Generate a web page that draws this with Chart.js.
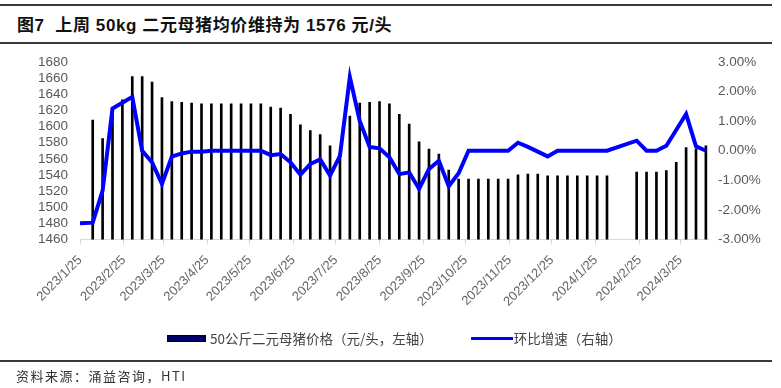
<!DOCTYPE html>
<html>
<head>
<meta charset="utf-8">
<script src="https://cdn.jsdelivr.net/npm/chart.js@4.4.1/dist/chart.umd.min.js"></script>
<style>
  body { margin: 0; background: #fff; }
  #page { position: relative; width: 781px; height: 388px; overflow: hidden; font-family: "Liberation Sans", "Noto Sans CJK SC", sans-serif; }
  #chart { position: absolute; left: 0; top: 0; }
  .rule { position: absolute; left: 0; width: 772px; height: 1.5px; background: #3a3a3a; }
  #title { position: absolute; left: 17px; top: 11px; font-size: 17px; font-weight: bold; letter-spacing: 0.6px; color: #111; white-space: pre; }
  #legend { position: absolute; top: 326px; left: 167px; font-family: "Noto Sans CJK SC", sans-serif; font-size: 13.5px; color: #444; white-space: nowrap; }
  #legend span { display: inline-block; vertical-align: middle; }
  .sw-bar { width: 37px; height: 5px; background: #000066; border: 0.5px solid #000; margin-right: 4px; }
  .sw-line { width: 42px; height: 3px; background: #0000ff; margin-left: 38px; margin-right: 1px; }
  #source { position: absolute; left: 16px; top: 366px; font-family: "Noto Sans CJK SC", sans-serif; font-size: 13px; letter-spacing: 1.5px; color: #333; }
</style>
</head>
<body>
<div id="page">
  <div class="rule" style="top:4px"></div>
  <div id="title">图7  上周 50kg 二元母猪均价维持为 1576 元/头</div>
  <div class="rule" style="top:42px"></div>
  <canvas id="chart" width="781" height="388"></canvas>
  <div id="legend"><span class="sw-bar"></span><span>50公斤二元母猪价格（元/头，左轴）</span><span class="sw-line"></span><span>环比增速（右轴）</span></div>
  <div class="rule" style="top:360px"></div>
  <div id="source">资料来源：涌益咨询，HTI</div>
</div>
<script>
// weekly observation dates (no data around Chinese New Year 2024)
const weekDates = [
  '2023/1/25', '2023/2/3', '2023/2/10', '2023/2/17', '2023/2/24', '2023/3/3', '2023/3/10', '2023/3/17',
  '2023/3/24', '2023/3/31', '2023/4/7', '2023/4/14', '2023/4/21', '2023/4/28', '2023/5/5', '2023/5/12',
  '2023/5/19', '2023/5/26', '2023/6/2', '2023/6/9', '2023/6/16', '2023/6/23', '2023/6/30', '2023/7/7',
  '2023/7/14', '2023/7/21', '2023/7/28', '2023/8/4', '2023/8/11', '2023/8/18', '2023/8/25', '2023/9/1',
  '2023/9/8', '2023/9/15', '2023/9/22', '2023/9/29', '2023/10/6', '2023/10/13', '2023/10/20', '2023/10/27',
  '2023/11/3', '2023/11/10', '2023/11/17', '2023/11/24', '2023/12/1', '2023/12/8', '2023/12/15', '2023/12/22',
  '2023/12/29', '2024/1/5', '2024/1/12', '2024/1/19', '2024/1/26', '2024/2/2', '2024/2/23', '2024/3/1',
  '2024/3/8', '2024/3/15', '2024/3/22', '2024/3/29', '2024/4/5', '2024/4/12'
];

// 50kg sow price, yuan/head (left axis)
const sowPrice = [
  null, 1608, 1585, 1620, 1633, 1662, 1662, 1655,
  1636, 1631, 1630, 1629, 1628, 1628, 1628, 1628,
  1628, 1628, 1628, 1624, 1623, 1615, 1602, 1595,
  1590, 1576, 1567, 1613, 1629, 1630, 1631, 1628,
  1615, 1603, 1581, 1572, 1566, 1546, 1535, 1535,
  1535, 1535, 1535, 1535, 1540, 1541, 1541, 1539,
  1539, 1539, 1539, 1539, 1539, 1539, 1543.5, 1543.5,
  1543.5, 1545.5, 1555.5, 1574, 1572.5, 1576
];

// week-on-week change, % (right axis)
const wowChange = [
  -2.45, -2.43, -1.35, 1.43, 1.62, 1.82, 0.0, -0.39,
  -1.12, -0.2, -0.09, -0.03, -0.03, 0.0, 0.0, 0.0,
  0.0, 0.0, 0.0, -0.15, -0.11, -0.39, -0.81, -0.45,
  -0.29, -0.84, -0.17, 2.49, 1.01, 0.13, 0.08, -0.22,
  -0.79, -0.73, -1.29, -0.62, -0.34, -1.2, -0.76, 0.0,
  0.0, 0.0, 0.0, 0.0, 0.27, 0.13, -0.03, -0.19,
  0.0, 0.0, 0.0, 0.0, 0.0, 0.0, 0.34, 0.0,
  0.0, 0.17, 0.7, 1.24, 0.15, 0.0
];

const tickLabels = [
  '2023/1/25', '2023/2/25', '2023/3/25', '2023/4/25', '2023/5/25', '2023/6/25', '2023/7/25', '2023/8/25',
  '2023/9/25', '2023/10/25', '2023/11/25', '2023/12/25', '2024/1/25', '2024/2/25', '2024/3/25'
];

function dayOf(s) {
  const [y, m, d] = s.split('/').map(Number);
  return (Date.UTC(y, m - 1, d) - Date.UTC(2023, 0, 25)) / 86400000;
}

const tickFont = { family: '"Liberation Sans", Arial, sans-serif', size: 13.5 };
const grey = '#595959';

new Chart(document.getElementById('chart'), {
  type: 'bar',
  data: {
    datasets: [
      {
        type: 'line',
        label: '环比增速（右轴）',
        data: weekDates.map((d, i) => ({ x: dayOf(d), y: wowChange[i] })),
        borderColor: '#0000ff',
        backgroundColor: '#0000ff',
        borderWidth: 4,
        pointRadius: 0,
        tension: 0,
        yAxisID: 'y1',
        order: 1
      },
      {
        label: '50公斤二元母猪价格（元/头，左轴）',
        data: weekDates.map((d, i) => ({ x: dayOf(d), y: sowPrice[i] })),
        backgroundColor: '#000000',
        barThickness: 2,
        yAxisID: 'y',
        order: 2
      }
    ]
  },
  options: {
    responsive: false,
    animation: false,
    devicePixelRatio: 1,
    layout: { padding: { top: 62, left: 0, right: 0, bottom: 78.5 } },
    plugins: {
      legend: { display: false },
      tooltip: { enabled: false }
    },
    scales: {
      x: {
        type: 'linear',
        min: 0,
        max: 444.5,
        offset: false,
        grid: { display: true, drawOnChartArea: false, offset: false, tickLength: 5, color: '#d9d9d9' },
        border: { display: true, color: '#d9d9d9' },
        afterBuildTicks: function (scale) {
          scale.ticks = tickLabels.map(t => ({ value: dayOf(t) }));
        },
        afterFit: function (scale) { scale.height = 70; },
        ticks: {
          autoSkip: false,
          minRotation: 45,
          maxRotation: 45,
          padding: 8,
          color: '#666',
          font: { family: tickFont.family, size: 13 },
          callback: function (value, index) { return tickLabels[index]; }
        }
      },
      y: {
        position: 'left',
        min: 1460,
        max: 1680,
        grid: { display: false, drawTicks: false },
        border: { display: false },
        afterFit: function (scale) { scale.width = 80; },
        ticks: {
          stepSize: 20,
          autoSkip: false,
          padding: 12,
          color: grey,
          font: tickFont,
          callback: function (value) { return String(value); }
        }
      },
      y1: {
        position: 'right',
        min: -3,
        max: 3,
        grid: { display: false, drawTicks: false },
        border: { display: false },
        afterFit: function (scale) { scale.width = 73; },
        ticks: {
          stepSize: 1,
          autoSkip: false,
          padding: 10,
          color: grey,
          font: tickFont,
          callback: function (value) { return value.toFixed(2) + '%'; }
        }
      }
    }
  }
});
</script>
</body>
</html>
